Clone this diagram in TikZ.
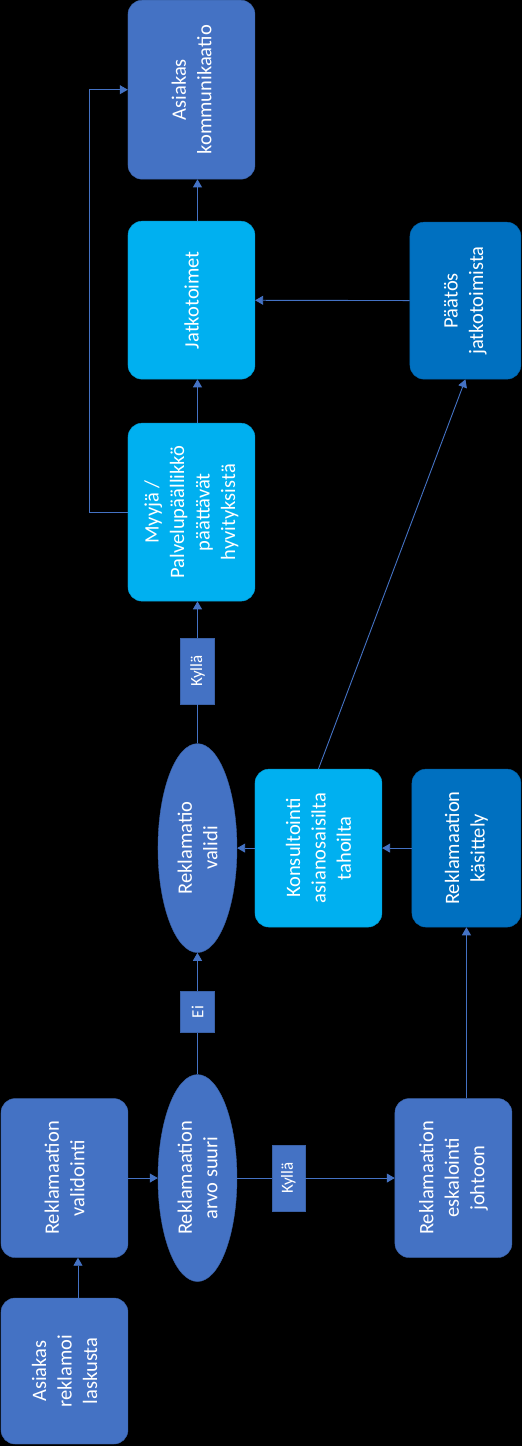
\documentclass[tikz,border=0pt]{standalone}
\usepackage{fontspec}
\setmainfont{Carlito}
\usepackage{tikz}
\usetikzlibrary{shapes.geometric, arrows.meta}
\usepackage{xcolor}
\definecolor{boxblue}{HTML}{4472C4}
\definecolor{boxcyan}{HTML}{00B0F0}
\definecolor{boxdark}{HTML}{0070C0}

\begin{document}
\begin{tikzpicture}[x=1pt, y=-1pt,
    proc/.style={rectangle, rounded corners=14pt, fill=#1, draw=#1!85!black, text=white, align=center, rotate=90, inner sep=0pt, font=\fontsize{20.5}{25.5}\selectfont},
    choice/.style={ellipse, fill=boxblue, draw=boxblue!85!black, text=white, align=center, rotate=90, inner sep=0pt, font=\fontsize{20.5}{25.5}\selectfont},
    tag/.style={rectangle, fill=boxblue, draw=boxblue!85!black, text=white, rotate=90, inner sep=0pt, font=\fontsize{17}{20}\selectfont},
    conn/.style={draw=boxblue, line width=0.9pt, -{Triangle[length=8pt, width=9pt]}}]
        \fill[black] (0,0) rectangle (522,1446);
        \node[proc=boxblue, minimum width=146pt, minimum height=127pt] (ask) at (64.5,1371) {Asiakas\\reklamoi\\laskusta};
        \node[proc=boxblue, minimum width=159pt, minimum height=127pt] (val) at (64.5,1178) {Reklamaation\\validointi};
        \node[choice, minimum width=207pt, minimum height=79pt] (arvo) at (197.5,1178) {Reklamaation\\arvo suuri};
        \node[tag, minimum width=66pt, minimum height=33pt] (kylla1) at (288.5,1178) {Kyllä};
        \node[proc=boxblue, minimum width=159pt, minimum height=117pt] (esk) at (453.5,1178) {Reklamaation\\eskalointi\\johtoon};
        \node[choice, minimum width=209pt, minimum height=79pt] (valid) at (197.5,848) {Reklamatio\\validi};
        \node[tag, minimum width=41pt, minimum height=34pt] (ei) at (197.5,1012) {Ei};
        \node[proc=boxcyan, minimum width=158pt, minimum height=127pt] (kons) at (318.5,848) {Konsultointi\\asianosaisilta\\tahoilta};
        \node[proc=boxdark, minimum width=158pt, minimum height=109pt] (kas) at (466.5,848) {Reklamaation\\käsittely};
        \node[tag, minimum width=66pt, minimum height=34pt] (kylla2) at (197.5,671) {Kyllä};
        \node[proc=boxcyan, minimum width=178pt, minimum height=127pt] (myyja) at (191.5,512) {Myyjä /\\Palvelupäällikkö\\päättävät\\hyvityksistä};
        \node[proc=boxcyan, minimum width=158pt, minimum height=127pt] (jatko) at (191.5,300) {Jatkotoimet};
        \node[proc=boxblue, minimum width=179pt, minimum height=127pt] (kom) at (191.5,89.5) {Asiakas\\kommunikaatio};
        \node[proc=boxdark, minimum width=157pt, minimum height=111pt] (paatos) at (465.5,300.5) {Päätös\\jatkotoimista};

        \draw[conn] ([xshift=13.5pt]ask.east) -- ([xshift=13.5pt]val.west);
        \draw[conn] (val) -- (arvo);
        \draw[conn, -] (arvo) -- (kylla1);
        \draw[conn] (kylla1) -- (esk);
        \draw[conn] (esk.east -| kas) -- (kas.west);
        \draw[conn] (kas) -- (kons);
        \draw[conn] (kons) -- (valid);
        \draw[conn, -] (arvo) -- (ei);
        \draw[conn] (ei) -- (valid);
        \draw[conn, -] (valid) -- (kylla2);
        \draw[conn] (kylla2) -- (myyja.west -| kylla2);
        \draw[conn] (myyja.east -| valid) -- (jatko.west -| valid);
        \draw[conn] (jatko.east -| valid) -- (kom.west -| valid);
        \draw[conn] (paatos) -- (jatko);
        \draw[conn] (kons.east) -- (paatos.west);
        \draw[conn] (myyja.north) -- ++(-38,0) |- (kom.north);
    \end{tikzpicture}
\end{document}
